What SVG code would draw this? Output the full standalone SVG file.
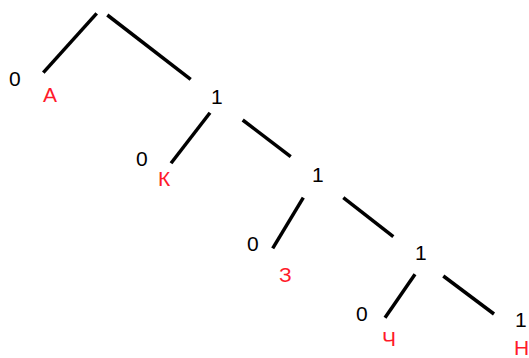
<svg xmlns="http://www.w3.org/2000/svg" width="529" height="358" viewBox="0 0 529 358">
<style>
.e{stroke:#000;stroke-width:3.5;stroke-linecap:butt;fill:none}
.b{font-family:"Liberation Sans",Arial,sans-serif;font-size:21px;fill:#000}
.l{font-family:"Liberation Sans",Arial,sans-serif;font-size:21px;fill:#ff1a2a}
</style>
<rect width="529" height="358" fill="#fff"/>
<g id="connectors">
<line class="e" x1="96.7" y1="13.3" x2="43.3" y2="72.7"/>
<line class="e" x1="107.3" y1="15" x2="190.7" y2="79.3"/>
<line class="e" x1="210" y1="112.7" x2="171" y2="163.3"/>
<line class="e" x1="242.7" y1="120" x2="290.7" y2="156.7"/>
<line class="e" x1="303.3" y1="197.7" x2="272.7" y2="248.3"/>
<line class="e" x1="343.3" y1="197.7" x2="393.3" y2="236.7"/>
<line class="e" x1="415" y1="274.3" x2="385" y2="317.7"/>
<line class="e" x1="443.3" y1="276" x2="494" y2="314"/>
</g>
<g id="leafA"><text class="b" x="9" y="86">0</text><text class="l" x="43" y="102">А</text></g>
<g id="node1"><text class="b" x="211" y="104">1</text></g>
<g id="leafK"><text class="b" x="136" y="166">0</text><text class="l" x="158" y="186">К</text></g>
<g id="node2"><text class="b" x="312" y="182">1</text></g>
<g id="leafZ"><text class="b" x="247" y="251">0</text><text class="l" x="279" y="282">З</text></g>
<g id="node3"><text class="b" x="415" y="260">1</text></g>
<g id="leafCh"><text class="b" x="356" y="321">0</text><text class="l" x="382" y="346">Ч</text></g>
<g id="leafN"><text class="b" x="515" y="327">1</text><text class="l" x="514" y="355">Н</text></g>
</svg>
